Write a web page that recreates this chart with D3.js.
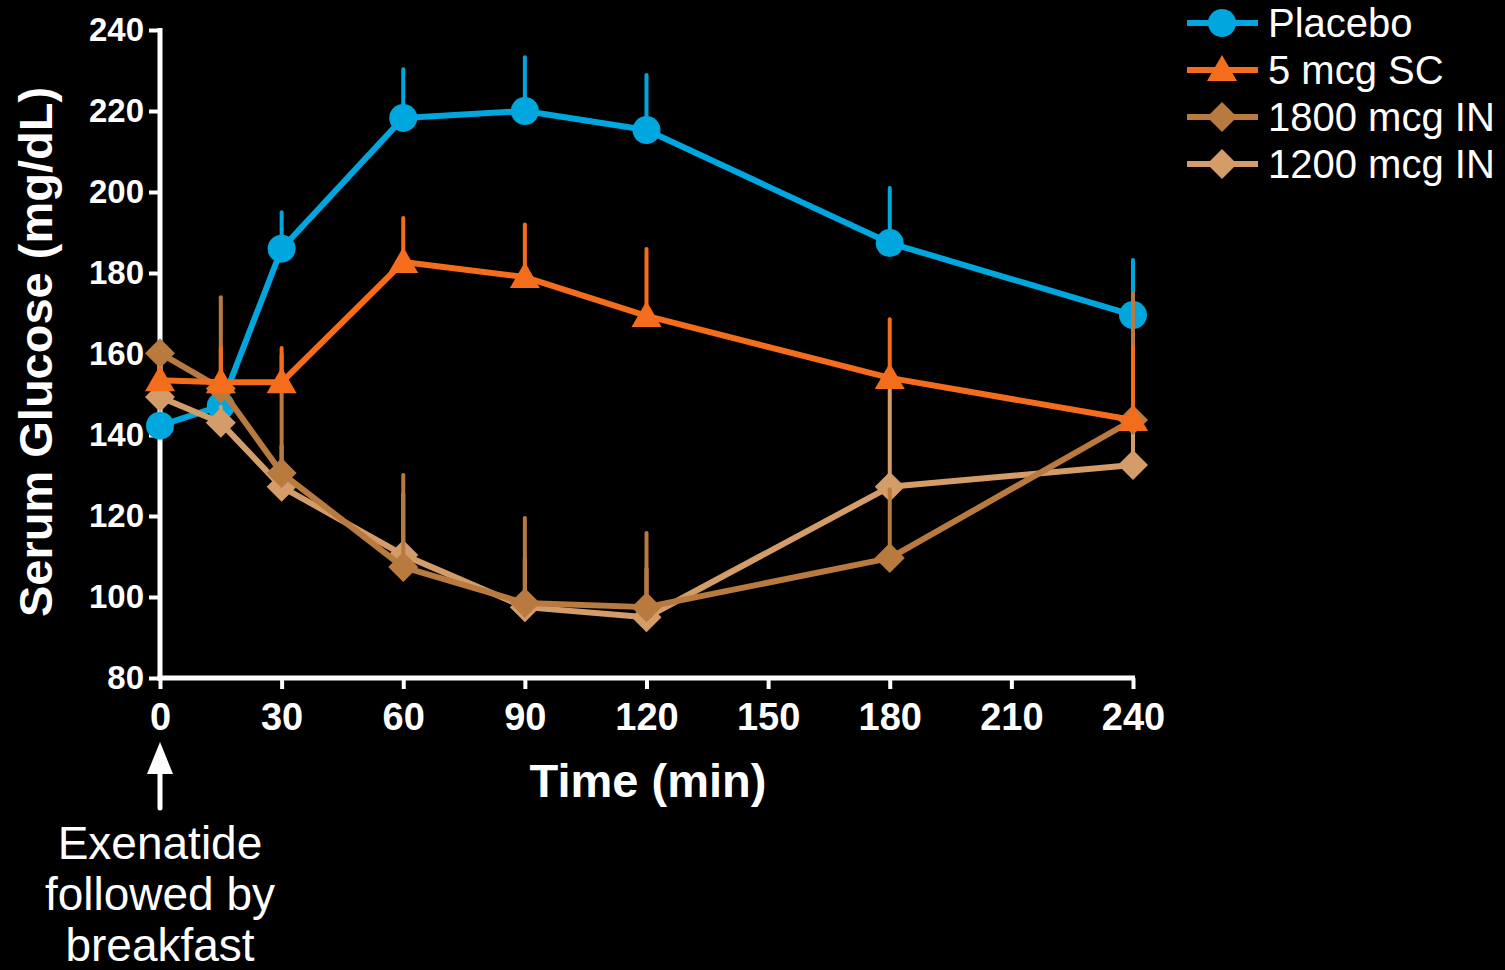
<!DOCTYPE html>
<html>
<head>
<meta charset="utf-8">
<script src="https://cdn.jsdelivr.net/npm/d3@7"></script>
<style>
  html, body { margin: 0; padding: 0; background: #000; }
  svg { display: block; }
  text { font-family: "Liberation Sans", Arial, sans-serif; fill: #fff; }
</style>
</head>
<body>
<svg id="chart" width="1505" height="970"></svg>
<script>
// ---- data ----
const times = [0, 15, 30, 60, 90, 120, 180, 240];
const placebo    = [142.3, 147.2, 186, 218.3, 220, 215.3, 187.4, 169.6];
const placeboErr = [3, 3, 9, 12, 13.3, 13.6, 13.6, 13.6];
const sc5        = [153.5, 153, 153, 182.7, 179, 169.4, 154.1, 143.7];
const sc5Err     = [3, 8.5, 8.5, 10.9, 13, 16.5, 14.5, 18];
const in1800     = [160.2, 151.5, 130.6, 107.4, 98.5, 97.5, 109.6, 143.7];
const in1800Err  = [2, 22.5, 29, 22.7, 21, 18.3, 17, 31.3];
const in1200     = [149.4, 143, 127.2, 110.4, 97.5, 95, 127.2, 132.6];
const in1200Err  = [2, 4, 10, 15, 12, 12, 27, 25];
const yTicks = [80, 100, 120, 140, 160, 180, 200, 220, 240];
const xTicks = [0, 30, 60, 90, 120, 150, 180, 210, 240];
const seriesNames = ["Placebo", "5 mcg SC", "1800 mcg IN", "1200 mcg IN"];
const seriesColors = ["#00a6de", "#f46d1c", "#b97a3f", "#d39c69"];
const seriesShapes = ["circle", "triangle", "diamond", "diamond"];

const series = [
  { name: seriesNames[0], values: placebo, err: placeboErr, color: seriesColors[0], shape: seriesShapes[0] },
  { name: seriesNames[1], values: sc5, err: sc5Err, color: seriesColors[1], shape: seriesShapes[1] },
  { name: seriesNames[2], values: in1800, err: in1800Err, color: seriesColors[2], shape: seriesShapes[2] },
  { name: seriesNames[3], values: in1200, err: in1200Err, color: seriesColors[3], shape: seriesShapes[3] }
];
// drawing order (back to front)
const drawOrder = [0, 3, 2, 1];

const svg = d3.select("#chart");
const x = d3.scaleLinear().domain([0, 240]).range([160, 1133]);
const y = d3.scaleLinear().domain([80, 240]).range([678, 30]);

function markerPath(shape) {
  if (shape === "circle") return "M14,0A14,14 0 1,1 -14,0A14,14 0 1,1 14,0Z";
  if (shape === "triangle") return "M0,-15L15,11L-15,11Z";
  return "M0,-15L15,0L0,15L-15,0Z";
}

// ---- axes ----
const yAxis = d3.axisLeft(y).tickValues(yTicks).tickSize(11).tickSizeOuter(0).tickPadding(5);
const gy = svg.append("g").attr("transform", "translate(160,0)").call(yAxis);
gy.select(".domain").attr("stroke", "#fff").attr("stroke-width", 5).attr("d", `M0,${y(240)-2}V${y(80)+2.5}`);
gy.selectAll(".tick line").attr("stroke", "#fff").attr("stroke-width", 4);
gy.selectAll(".tick text").attr("fill", "#fff").style("font-size", "33px").style("font-weight", "bold")
  .style("font-family", '"Liberation Sans", Arial, sans-serif');

const xAxis = d3.axisBottom(x).tickValues(xTicks).tickSize(11).tickSizeOuter(0).tickPadding(14);
const gx = svg.append("g").attr("transform", "translate(0,678)").call(xAxis);
gx.select(".domain").attr("stroke", "#fff").attr("stroke-width", 5).attr("d", `M${x(0)-2.5},0H${x(240)+2}`);
gx.selectAll(".tick line").attr("stroke", "#fff").attr("stroke-width", 4);
gx.selectAll(".tick text").attr("fill", "#fff").style("font-size", "38px").style("font-weight", "bold")
  .style("font-family", '"Liberation Sans Narrow", "Liberation Sans", Arial, sans-serif');

// axis titles
svg.append("text")
  .attr("transform", "translate(52,352) rotate(-90)")
  .attr("text-anchor", "middle")
  .style("font-size", "47px").style("font-weight", "bold")
  .text("Serum Glucose (mg/dL)");

svg.append("text")
  .attr("x", 648).attr("y", 797)
  .attr("text-anchor", "middle")
  .style("font-size", "47px").style("font-weight", "bold")
  .text("Time (min)");

// ---- series ----
const line = d3.line().x((d, i) => x(times[i])).y(d => y(d));
drawOrder.forEach(si => {
  const s = series[si];
  const g = svg.append("g").attr("class", "series");
  g.selectAll("line.err").data(s.values).enter().append("line")
    .attr("class", "err")
    .attr("x1", (d, i) => x(times[i])).attr("x2", (d, i) => x(times[i]))
    .attr("y1", d => y(d)).attr("y2", (d, i) => y(d + s.err[i]))
    .attr("stroke", s.color).attr("stroke-width", 4).attr("stroke-linecap", "round");
  g.append("path").datum(s.values).attr("d", line)
    .attr("fill", "none").attr("stroke", s.color).attr("stroke-width", 6).attr("stroke-linejoin", "round");
  g.selectAll("path.mk").data(s.values).enter().append("path")
    .attr("class", "mk")
    .attr("d", markerPath(s.shape))
    .attr("transform", (d, i) => `translate(${x(times[i])},${y(d)})`)
    .attr("fill", s.color);
});

// ---- legend ----
const legY = [23, 70, 117, 164];
series.forEach((s, i) => {
  const g = svg.append("g").attr("transform", `translate(0,${legY[i]})`);
  g.append("line").attr("x1", 1187).attr("x2", 1258).attr("y1", 0).attr("y2", 0)
    .attr("stroke", s.color).attr("stroke-width", 6);
  g.append("path").attr("d", markerPath(s.shape)).attr("transform", "translate(1222,0)").attr("fill", s.color);
  g.append("text").attr("x", 1268).attr("y", 14).style("font-size", "40px").text(s.name);
});

// ---- annotation ----
svg.append("line").attr("x1", x(0)).attr("x2", x(0)).attr("y1", 808).attr("y2", 768)
  .attr("stroke", "#fff").attr("stroke-width", 5).attr("stroke-linecap", "round");
svg.append("path").attr("d", `M${x(0)},742L${x(0)+13},774L${x(0)-13},774Z`).attr("fill", "#fff");
const ann = ["Exenatide", "followed by", "breakfast"];
svg.selectAll("text.ann").data(ann).enter().append("text")
  .attr("class", "ann")
  .attr("x", x(0)).attr("y", (d, i) => 859 + i * 51)
  .attr("text-anchor", "middle")
  .style("font-size", "46px")
  .text(d => d);
</script>
</body>
</html>
